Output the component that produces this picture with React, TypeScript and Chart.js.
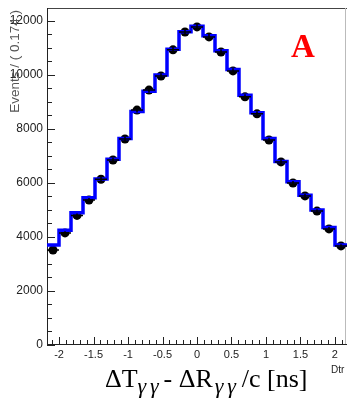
import React, { useEffect, useRef } from "react";
import { Chart, registerables } from "chart.js";

Chart.register(...registerables);

// ---- data ----
const xMin = -2.175;
const xMax = 2.175;
const binWidth = 0.174;
const binCenters = [
  -2.088, -1.914, -1.74, -1.566, -1.392, -1.218, -1.044, -0.87, -0.696, -0.522, -0.348, -0.174, 0,
  0.174, 0.348, 0.522, 0.696, 0.87, 1.044, 1.218, 1.392, 1.566, 1.74, 1.914, 2.088,
];
const dataCounts = [
  3520, 4150, 4800, 5370, 6140, 6850, 7630, 8700, 9440, 9960, 10930, 11590, 11780, 11410, 10850,
  10150, 9190, 8560, 7590, 6780, 6000, 5520, 4960, 4300, 3670,
];
const histCounts = [
  3700, 4250, 4900, 5450, 6150, 6880, 7650, 8650, 9400, 10000, 10950, 11600, 11800, 11450, 10900,
  10200, 9250, 8600, 7650, 6800, 6050, 5550, 5000, 4350, 3700,
];
const xTickValues = [-2, -1.5, -1, -0.5, 0, 0.5, 1, 1.5, 2];
const yTickValues = [0, 2000, 4000, 6000, 8000, 10000, 12000];
const yMax = 12480;
const yTitle = "Events / ( 0.174 )";
const panelLabel = "A";
const cornerLabel = "Dtr";

const sans = "'Liberation Sans', Arial, sans-serif";
const serif = "'Liberation Serif', 'Times New Roman', serif";

function buildStepPoints() {
  const pts: { x: number; y: number }[] = [];
  pts.push({ x: binCenters[0] - binWidth / 2, y: 0 });
  for (let i = 0; i < binCenters.length; i++) {
    const lo = binCenters[i] - binWidth / 2;
    const hi = binCenters[i] + binWidth / 2;
    pts.push({ x: lo, y: histCounts[i] });
    pts.push({ x: hi, y: histCounts[i] });
  }
  pts.push({ x: binCenters[binCenters.length - 1] + binWidth / 2, y: 0 });
  return pts;
}

const framePlugin = {
  id: "frame",
  beforeDatasetsDraw(chart: any) {
    const { ctx, chartArea } = chart;
    const xs = chart.scales.x;
    const ys = chart.scales.y;
    const { left, right, top, bottom } = chartArea;
    ctx.save();
    ctx.lineWidth = 1;
    ctx.strokeStyle = "#444";
    ctx.beginPath();
    ctx.moveTo(left, top + 0.5);
    ctx.lineTo(chart.width, top + 0.5);
    ctx.stroke();
    ctx.strokeStyle = "#bbb";
    ctx.beginPath();
    ctx.moveTo(right - 1.5, top);
    ctx.lineTo(right - 1.5, bottom);
    ctx.stroke();
    ctx.strokeStyle = "#222";
    ctx.beginPath();
    ctx.moveTo(left + 0.5, top);
    ctx.lineTo(left + 0.5, bottom);
    ctx.moveTo(left, bottom - 0.5);
    ctx.lineTo(right, bottom - 0.5);
    ctx.stroke();
    ctx.beginPath();
    for (let v = 0; v <= 12000; v += 500) {
      const y = Math.round(ys.getPixelForValue(v)) + 0.5;
      const len = v % 2000 === 0 ? 8 : 5;
      ctx.moveTo(left, y);
      ctx.lineTo(left + len, y);
    }
    for (let k = -21; k <= 21; k++) {
      const v = k / 10;
      const x = Math.round(xs.getPixelForValue(v)) + 0.5;
      const len = k % 5 === 0 ? 8 : 5;
      ctx.moveTo(x, bottom);
      ctx.lineTo(x, bottom - len);
    }
    ctx.stroke();
    ctx.restore();
  },
  afterDatasetsDraw(chart: any) {
    const { ctx } = chart;
    const xs = chart.scales.x;
    const ys = chart.scales.y;
    ctx.save();
    ctx.strokeStyle = "#000";
    ctx.lineWidth = 1.5;
    ctx.beginPath();
    for (let i = 0; i < binCenters.length; i++) {
      const y = ys.getPixelForValue(dataCounts[i]);
      const x1 = xs.getPixelForValue(binCenters[i] - binWidth / 2);
      const x2 = xs.getPixelForValue(binCenters[i] + binWidth / 2);
      ctx.moveTo(x1, y);
      ctx.lineTo(x2, y);
      const err = Math.sqrt(dataCounts[i]);
      const cx = xs.getPixelForValue(binCenters[i]);
      ctx.moveTo(cx, ys.getPixelForValue(dataCounts[i] - err));
      ctx.lineTo(cx, ys.getPixelForValue(dataCounts[i] + err));
    }
    ctx.stroke();
    ctx.restore();
  },
  afterDraw(chart: any) {
    const { ctx } = chart;
    ctx.save();
    ctx.fillStyle = "#555";
    ctx.font = `13.5px ${sans}`;
    ctx.translate(15, 10);
    ctx.rotate(-Math.PI / 2);
    ctx.textAlign = "right";
    ctx.textBaseline = "middle";
    ctx.fillText(yTitle, 0, 0);
    ctx.restore();

    ctx.save();
    ctx.fillStyle = "#ff0000";
    ctx.font = `bold 33px ${serif}`;
    ctx.textAlign = "left";
    ctx.textBaseline = "alphabetic";
    ctx.fillText(panelLabel, 291, 57);

    ctx.fillStyle = "#222";
    ctx.font = `10px ${sans}`;
    ctx.textBaseline = "middle";
    ctx.fillText(cornerLabel, 331, 370);

    // x title
    ctx.fillStyle = "#000";
    ctx.textBaseline = "alphabetic";
    const base = 387;
    const big = `26px ${serif}`;
    const sub = `italic 22px ${serif}`;
    let x = 105;
    const drawBig = (t: string) => {
      ctx.font = big;
      ctx.fillText(t, x, base);
      x += ctx.measureText(t).width;
    };
    const drawSub = () => {
      ctx.font = sub;
      ctx.fillText("\u03b3", x, base + 6);
      ctx.fillText("\u03b3", x + 12.5, base + 6);
      x += 26;
    };
    drawBig("\u0394T");
    drawSub();
    drawBig("- \u0394R");
    x += 2;
    drawSub();
    x += 1;
    drawBig("/c [ns]");
    ctx.restore();
  },
};

export default function App() {
  const ref = useRef<HTMLCanvasElement | null>(null);
  useEffect(() => {
    if (!ref.current) return;
    const chart = new Chart(ref.current, {
      type: "line",
      data: {
        datasets: [
          {
            data: buildStepPoints(),
            borderColor: "#0000ff",
            borderWidth: 3.5,
            pointRadius: 0,
            fill: false,
            tension: 0,
          },
          {
            data: binCenters.map((x, i) => ({ x, y: dataCounts[i] })),
            showLine: false,
            pointRadius: 4.5,
            pointBackgroundColor: "#000",
            pointBorderColor: "#000",
            pointBorderWidth: 0,
          },
        ],
      },
      options: {
        animation: false,
        responsive: false,
        maintainAspectRatio: false,
        layout: { autoPadding: false, padding: { top: 8, right: 0, left: 0, bottom: 0 } },
        plugins: { legend: { display: false }, tooltip: { enabled: false } },
        scales: {
          x: {
            type: "linear",
            min: xMin,
            max: xMax,
            grid: { display: false, drawTicks: false },
            border: { display: false },
            afterBuildTicks: (s: any) => {
              s.ticks = xTickValues.map((v) => ({ value: v }));
            },
            afterFit: (s: any) => {
              s.height = 57;
              s.paddingLeft = 0;
              s.paddingRight = 0;
            },
            ticks: {
              autoSkip: false,
              maxRotation: 0,
              padding: 3,
              color: "#222",
              font: { family: sans, size: 11 },
              callback: (v: any) => String(v),
            },
          },
          y: {
            min: 0,
            max: yMax,
            grid: { display: false, drawTicks: false },
            border: { display: false },
            afterBuildTicks: (s: any) => {
              s.ticks = yTickValues.map((v) => ({ value: v }));
            },
            afterFit: (s: any) => {
              s.width = 47;
              s.paddingTop = 0;
              s.paddingBottom = 0;
            },
            ticks: {
              padding: 4,
              color: "#222",
              font: { family: sans, size: 12 },
              callback: (v: any) => String(v),
            },
          },
        },
      },
      plugins: [framePlugin],
    });
    return () => chart.destroy();
  }, []);
  return (
    <div style={{ position: "absolute", left: 0, top: 0, width: 347, height: 402, background: "#fff" }}>
      <canvas ref={ref} width={347} height={402} style={{ width: 347, height: 402, display: "block" }} />
    </div>
  );
}
